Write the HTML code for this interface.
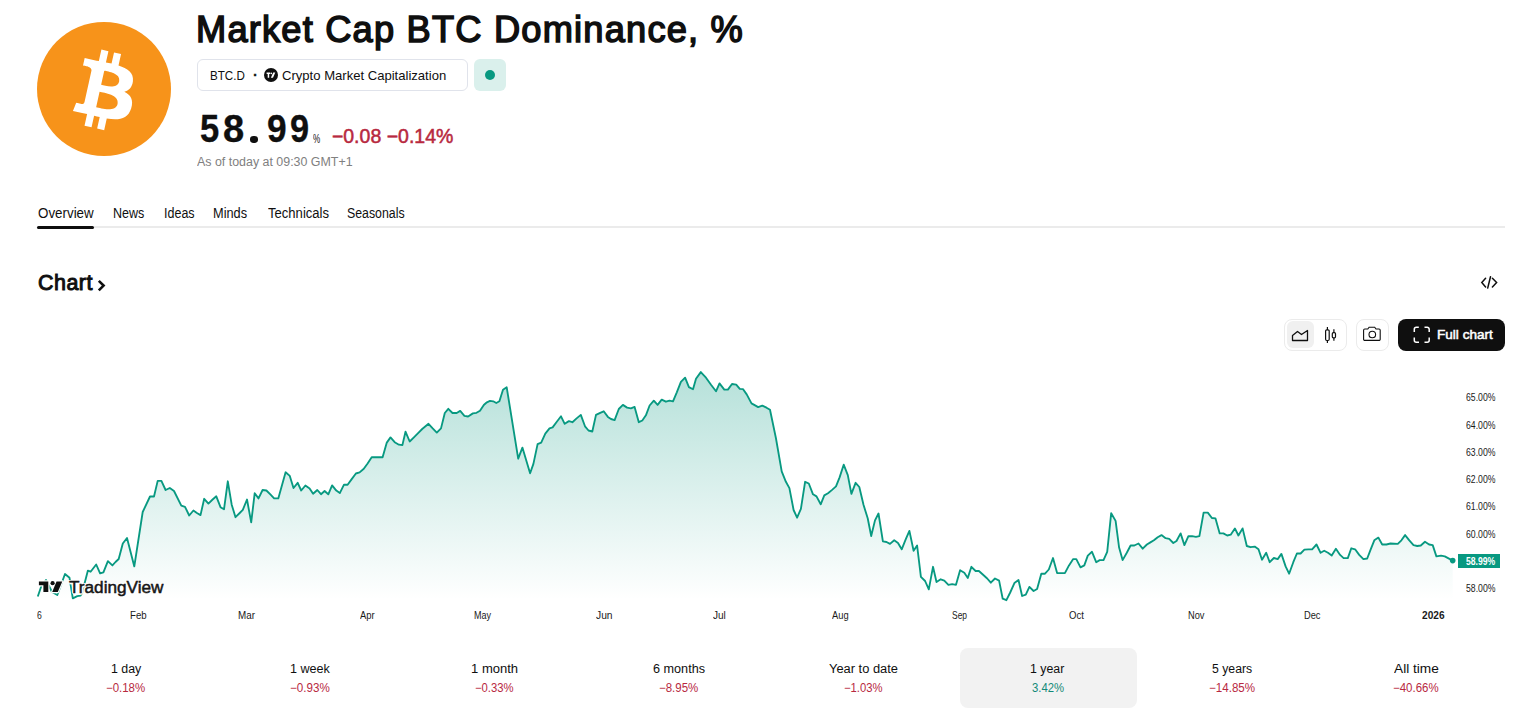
<!DOCTYPE html>
<html><head><meta charset="utf-8">
<style>
html,body{margin:0;padding:0;background:#fff;}
body{width:1523px;height:719px;overflow:hidden;position:relative;font-family:"Liberation Sans",sans-serif;color:#0f0f0f;}
.a{position:absolute;white-space:nowrap;}
</style></head>
<body>
<!-- logo -->
<svg class="a" style="left:37px;top:22px" width="134" height="134" viewBox="0 0 64 64">
<circle cx="32" cy="32" r="32" fill="#f7931a"/>
<path fill="#fff" transform="translate(31.75 32.2) rotate(-1.5) scale(0.95) translate(-31.2 -31.2)" d="M46.11 27.441c.636-4.258-2.606-6.547-7.039-8.074l1.438-5.768-3.512-.875-1.4 5.616c-.922-.23-1.87-.447-2.812-.662l1.41-5.653-3.509-.875-1.439 5.766c-.764-.174-1.514-.346-2.242-.527l.004-.018-4.842-1.209-.934 3.75s2.605.597 2.55.634c1.422.355 1.68 1.296 1.636 2.042l-1.638 6.571c.098.025.225.061.365.117l-.37-.092-2.297 9.205c-.174.432-.615 1.08-1.609.834.035.051-2.552-.637-2.552-.637l-1.743 4.019 4.569 1.139c.85.213 1.683.436 2.503.646l-1.453 5.834 3.507.875 1.439-5.772c.958.26 1.888.5 2.798.726l-1.434 5.745 3.511.875 1.453-5.823c5.987 1.133 10.489.676 12.384-4.739 1.527-4.36-.076-6.875-3.226-8.515 2.294-.529 4.022-2.038 4.483-5.155zM38.087 38.69c-1.086 4.36-8.426 2.004-10.807 1.412l1.928-7.729c2.38.594 10.011 1.77 8.88 6.317zm1.085-11.312c-.99 3.966-7.1 1.951-9.083 1.457l1.748-7.01c1.983.494 8.367 1.416 7.335 5.553z"/>
</svg>

<!-- title -->

<!-- badge -->
<div class="a" style="left:197px;top:59px;width:269px;height:30px;border:1px solid #e0e3eb;border-radius:6px;"></div>
<svg class="a" style="left:264px;top:68px" width="14" height="14" viewBox="0 0 14 14">
<circle cx="7" cy="7" r="7" fill="#0f0f0f"/>
<path d="M2.6 4.6h3.6v1.5H5.2v3.6H3.7V6.1H2.6z" fill="#fff"/>
<circle cx="7.3" cy="5.4" r="0.8" fill="#fff"/>
<path d="M9.2 4.6h2.1l-2.3 5.1H6.9z" fill="#fff"/>
</svg>
<div class="a" style="left:474px;top:59px;width:32px;height:32px;border-radius:6px;background:#daf0ec"></div>
<div class="a" style="left:485px;top:70px;width:10px;height:10px;border-radius:50%;background:#089981"></div>

<!-- price -->

<div class="a" style="left:249.5px;top:136px;width:8px;height:7px;border-radius:45%;background:#0f0f0f"></div>
<!-- tabs -->
<div class="a" style="left:37px;top:226px;width:1468px;height:2px;background:#ebebeb"></div>
<div class="a" style="left:37px;top:225.5px;width:57px;height:3px;border-radius:2px;background:#0f0f0f"></div>

<!-- chart heading -->
<svg class="a" style="left:97px;top:279px" width="9" height="13" viewBox="0 0 9 13"><path d="M1.8 1.8l4.8 4.8-4.8 4.8" fill="none" stroke="#0f0f0f" stroke-width="2.6"/></svg>

<!-- embed icon -->
<svg class="a" style="left:1479px;top:275px" width="20" height="16" viewBox="0 0 20 16">
<path d="M6.6 3.3L2.8 7.6 6.6 12M13.4 3.3L17.6 7.6 13.4 12M11.5 1.8L8.7 13.1" fill="none" stroke="#0f0f0f" stroke-width="1.5" stroke-linecap="round" stroke-linejoin="miter"/>
</svg>
<!-- toolbar -->
<div class="a" style="left:1284px;top:319px;width:61px;height:30px;border:1px solid #ebebeb;border-radius:8px"></div>
<div class="a" style="left:1287px;top:321px;width:27px;height:27px;border-radius:6px;background:#f0f0f0"></div>
<svg class="a" style="left:1290px;top:326px" width="20" height="18" viewBox="0 0 20 18">
<path d="M2.5 14.5V9.5l5-4 4 3 6-4v10z" fill="none" stroke="#0f0f0f" stroke-width="1.3" stroke-linejoin="round"/>
</svg>
<svg class="a" style="left:1322px;top:326px" width="16" height="18" viewBox="0 0 16 18">
<path d="M5.4 1v16M11.9 3.3v11.4" stroke="#0f0f0f" stroke-width="1.2"/>
<rect x="3.6" y="3.9" width="3.6" height="10.6" rx="1.2" fill="#fff" stroke="#0f0f0f" stroke-width="1.2"/>
<rect x="10.3" y="6.6" width="3.2" height="5.2" rx="1.1" fill="#fff" stroke="#0f0f0f" stroke-width="1.2"/>
</svg>
<div class="a" style="left:1356px;top:319px;width:31px;height:30px;border:1px solid #ebebeb;border-radius:8px"></div>
<svg class="a" style="left:1362px;top:325px" width="20" height="18" viewBox="0 0 20 18">
<path d="M1.6 5.2a1.2 1.2 0 0 1 1.2-1.2h3l1.3-1.8h5.6l1.3 1.8h3a1.2 1.2 0 0 1 1.2 1.2v9a1.2 1.2 0 0 1-1.2 1.2H2.8a1.2 1.2 0 0 1-1.2-1.2z" fill="none" stroke="#0f0f0f" stroke-width="1.1"/>
<circle cx="10.3" cy="9.5" r="3.3" fill="none" stroke="#0f0f0f" stroke-width="1.1"/>
</svg>
<div class="a" style="left:1398px;top:319px;width:107px;height:32px;border-radius:8px;background:#0f0f0f"></div>
<svg class="a" style="left:1412.3px;top:324.5px" width="20" height="20" viewBox="0 0 20 20">
<path d="M2.3 7V4.3a2 2 0 0 1 2-2h2.5M12.5 2.3h2.7a2 2 0 0 1 2 2V7M17.2 12.5v2.7a2 2 0 0 1-2 2h-2.7M7 17.2H4.3a2 2 0 0 1-2-2v-2.7" fill="none" stroke="#fff" stroke-width="1.5"/>
</svg>

<!-- chart -->
<svg class="a" style="left:0;top:0" width="1523" height="719">
<defs><linearGradient id="g" x1="0" y1="370" x2="0" y2="600" gradientUnits="userSpaceOnUse">
<stop offset="0" stop-color="#089981" stop-opacity="0.30"/>
<stop offset="1" stop-color="#089981" stop-opacity="0.0"/>
</linearGradient></defs>
<path d="M37.8 596.5 L41.1 586.7 L46.0 580.0 L52.0 592.0 L57.3 595.0 L65.0 574.0 L69.5 577.8 L72.8 598.4 L77.3 596.2 L80.6 595.6 L82.3 592.3 L87.9 570.6 L90.6 571.7 L96.2 564.5 L100.1 573.4 L103.4 572.3 L107.9 561.1 L112.4 565.4 L115.5 562.0 L118.7 559.0 L122.8 543.5 L127.0 538.0 L134.3 566.4 L142.7 512.0 L150.0 496.5 L154.0 496.5 L157.7 480.9 L161.4 480.9 L165.6 490.0 L169.8 488.0 L174.0 491.0 L181.3 505.7 L185.0 506.8 L189.2 515.5 L193.4 510.5 L196.9 513.0 L200.5 515.1 L204.2 498.8 L208.4 503.6 L212.6 499.5 L216.3 496.3 L220.5 507.2 L224.0 509.3 L227.8 481.3 L231.7 504.7 L235.5 517.2 L239.7 513.0 L242.8 509.9 L247.0 499.5 L251.2 522.4 L254.7 493.2 L258.5 498.4 L262.6 490.0 L266.4 490.5 L270.6 494.7 L274.1 498.4 L278.3 498.4 L285.6 472.3 L289.8 475.9 L293.5 488.0 L297.7 482.8 L301.2 490.5 L305.4 485.5 L309.6 488.4 L313.1 493.8 L317.3 490.0 L321.0 494.2 L324.6 491.0 L328.3 494.3 L332.1 485.4 L336.3 490.6 L339.8 493.1 L344.0 484.7 L347.6 484.7 L351.7 479.1 L355.9 473.5 L359.6 472.4 L363.8 468.7 L367.6 463.5 L371.7 457.2 L375.9 457.2 L382.6 457.2 L386.8 442.6 L390.5 437.4 L394.7 442.2 L398.9 444.7 L402.4 445.1 L405.5 431.7 L409.7 441.5 L413.9 437.4 L418.1 433.2 L422.2 429.0 L428.5 423.8 L432.7 428.4 L436.8 432.6 L441.0 428.4 L444.8 413.0 L448.3 408.8 L452.5 413.0 L456.7 413.0 L460.2 410.9 L464.4 415.9 L468.1 416.5 L472.9 413.4 L476.5 412.8 L480.0 410.7 L483.8 405.0 L486.9 402.3 L490.0 400.9 L493.2 401.3 L496.3 403.0 L499.4 401.3 L503.0 389.8 L506.7 387.3 L518.2 458.7 L522.4 447.6 L530.1 473.3 L533.4 463.9 L537.6 444.1 L541.2 442.6 L545.3 433.6 L549.5 428.4 L552.6 427.4 L556.8 421.7 L561.0 416.3 L564.7 423.8 L568.9 421.1 L572.4 422.2 L576.6 418.4 L580.8 414.9 L585.0 426.3 L588.5 430.5 L592.3 431.5 L596.0 414.9 L600.2 412.8 L603.7 411.3 L607.9 416.9 L611.0 419.0 L614.6 420.1 L618.8 409.0 L622.9 404.9 L627.1 407.6 L630.9 408.4 L634.6 406.9 L638.8 422.2 L642.3 420.5 L645.9 415.3 L649.6 405.5 L653.8 400.7 L657.6 404.9 L661.7 399.6 L665.9 401.7 L669.5 400.7 L673.0 401.3 L676.8 392.3 L680.9 381.9 L685.1 377.7 L688.9 387.1 L693.0 389.2 L696.0 378.8 L700.8 372.1 L706.0 377.7 L711.2 385.0 L716.0 391.3 L719.5 383.4 L724.3 389.6 L727.9 389.6 L732.0 384.0 L736.2 384.6 L739.8 388.8 L743.1 389.2 L746.7 394.4 L751.5 403.4 L756.0 405.9 L758.1 407.1 L762.3 405.6 L766.5 407.7 L770.0 409.8 L775.9 438.0 L781.7 471.4 L785.9 481.8 L789.4 488.1 L793.6 510.0 L797.1 517.7 L800.9 508.9 L805.1 481.8 L808.8 483.5 L813.0 494.3 L816.5 496.4 L820.7 504.3 L824.3 495.4 L828.0 493.3 L831.8 490.1 L836.0 486.4 L839.5 477.6 L843.7 464.7 L847.8 475.1 L851.4 493.9 L855.6 482.8 L859.3 487.0 L863.5 504.8 L867.7 518.3 L871.2 536.0 L875.0 520.4 L878.5 513.5 L882.9 541.4 L886.5 542.0 L890.0 543.9 L894.2 540.3 L898.0 543.0 L901.7 549.3 L905.9 538.9 L909.4 530.9 L913.6 550.8 L917.1 545.5 L920.9 576.8 L925.1 581.0 L928.8 589.4 L933.0 566.8 L936.5 582.0 L940.7 579.3 L944.3 580.6 L948.4 584.8 L952.2 584.1 L956.0 584.8 L960.1 570.2 L964.3 572.7 L967.8 577.9 L971.4 566.8 L975.6 571.0 L978.9 571.0 L983.1 574.8 L987.2 578.5 L990.8 582.7 L995.0 578.5 L999.1 580.6 L1002.7 598.7 L1006.4 600.2 L1010.2 592.5 L1014.4 583.1 L1018.5 580.0 L1022.1 596.0 L1025.8 594.6 L1029.4 586.9 L1033.6 591.0 L1037.1 589.0 L1041.3 573.7 L1045.0 573.7 L1048.8 569.5 L1053.0 558.0 L1057.1 573.1 L1060.7 573.1 L1064.9 573.1 L1069.0 565.4 L1073.2 559.1 L1076.3 559.1 L1080.5 567.4 L1084.3 565.4 L1087.8 555.6 L1092.0 551.8 L1096.2 562.2 L1099.7 560.1 L1103.5 560.1 L1107.2 551.8 L1111.2 513.2 L1115.6 520.9 L1119.1 547.6 L1122.6 560.1 L1126.8 552.8 L1130.6 545.5 L1134.3 545.5 L1138.5 543.5 L1142.7 548.7 L1146.9 544.5 L1150.4 542.4 L1153.9 540.3 L1157.7 537.2 L1161.5 535.1 L1165.6 538.2 L1169.2 538.9 L1173.3 543.0 L1176.5 541.0 L1180.6 533.4 L1184.4 545.1 L1188.4 536.2 L1192.1 536.2 L1195.9 536.8 L1199.4 536.2 L1203.6 512.6 L1207.8 512.6 L1211.9 518.0 L1215.5 518.4 L1219.7 533.4 L1223.4 533.4 L1227.2 535.5 L1230.7 534.7 L1234.9 528.4 L1238.4 535.5 L1242.6 528.4 L1246.8 546.0 L1250.5 547.2 L1254.7 546.6 L1258.5 549.3 L1262.0 559.7 L1266.2 552.8 L1269.7 562.2 L1273.9 558.0 L1277.7 559.1 L1281.4 553.9 L1285.6 566.4 L1289.1 573.7 L1293.3 562.2 L1296.9 553.5 L1300.6 553.5 L1304.4 549.7 L1308.5 549.3 L1312.1 549.3 L1316.5 544.5 L1320.6 552.8 L1324.2 550.8 L1328.0 552.8 L1331.7 555.6 L1335.9 548.7 L1340.1 554.9 L1343.6 558.1 L1347.8 558.1 L1351.3 548.3 L1355.1 549.3 L1359.2 554.9 L1363.4 559.1 L1367.2 558.5 L1370.7 549.3 L1374.3 540.3 L1378.4 537.6 L1382.2 544.5 L1386.4 544.5 L1390.5 543.5 L1397.8 543.9 L1401.4 540.3 L1405.1 535.1 L1409.3 540.3 L1413.5 545.1 L1417.2 546.0 L1420.8 545.5 L1425.0 541.8 L1429.1 544.5 L1432.7 545.1 L1436.4 556.4 L1441.0 555.6 L1444.8 556.4 L1452.7 560.6 L1452.7 600 L37.8 600 Z" fill="url(#g)"/>
<path d="M37.8 596.5 L41.1 586.7 L46.0 580.0 L52.0 592.0 L57.3 595.0 L65.0 574.0 L69.5 577.8 L72.8 598.4 L77.3 596.2 L80.6 595.6 L82.3 592.3 L87.9 570.6 L90.6 571.7 L96.2 564.5 L100.1 573.4 L103.4 572.3 L107.9 561.1 L112.4 565.4 L115.5 562.0 L118.7 559.0 L122.8 543.5 L127.0 538.0 L134.3 566.4 L142.7 512.0 L150.0 496.5 L154.0 496.5 L157.7 480.9 L161.4 480.9 L165.6 490.0 L169.8 488.0 L174.0 491.0 L181.3 505.7 L185.0 506.8 L189.2 515.5 L193.4 510.5 L196.9 513.0 L200.5 515.1 L204.2 498.8 L208.4 503.6 L212.6 499.5 L216.3 496.3 L220.5 507.2 L224.0 509.3 L227.8 481.3 L231.7 504.7 L235.5 517.2 L239.7 513.0 L242.8 509.9 L247.0 499.5 L251.2 522.4 L254.7 493.2 L258.5 498.4 L262.6 490.0 L266.4 490.5 L270.6 494.7 L274.1 498.4 L278.3 498.4 L285.6 472.3 L289.8 475.9 L293.5 488.0 L297.7 482.8 L301.2 490.5 L305.4 485.5 L309.6 488.4 L313.1 493.8 L317.3 490.0 L321.0 494.2 L324.6 491.0 L328.3 494.3 L332.1 485.4 L336.3 490.6 L339.8 493.1 L344.0 484.7 L347.6 484.7 L351.7 479.1 L355.9 473.5 L359.6 472.4 L363.8 468.7 L367.6 463.5 L371.7 457.2 L375.9 457.2 L382.6 457.2 L386.8 442.6 L390.5 437.4 L394.7 442.2 L398.9 444.7 L402.4 445.1 L405.5 431.7 L409.7 441.5 L413.9 437.4 L418.1 433.2 L422.2 429.0 L428.5 423.8 L432.7 428.4 L436.8 432.6 L441.0 428.4 L444.8 413.0 L448.3 408.8 L452.5 413.0 L456.7 413.0 L460.2 410.9 L464.4 415.9 L468.1 416.5 L472.9 413.4 L476.5 412.8 L480.0 410.7 L483.8 405.0 L486.9 402.3 L490.0 400.9 L493.2 401.3 L496.3 403.0 L499.4 401.3 L503.0 389.8 L506.7 387.3 L518.2 458.7 L522.4 447.6 L530.1 473.3 L533.4 463.9 L537.6 444.1 L541.2 442.6 L545.3 433.6 L549.5 428.4 L552.6 427.4 L556.8 421.7 L561.0 416.3 L564.7 423.8 L568.9 421.1 L572.4 422.2 L576.6 418.4 L580.8 414.9 L585.0 426.3 L588.5 430.5 L592.3 431.5 L596.0 414.9 L600.2 412.8 L603.7 411.3 L607.9 416.9 L611.0 419.0 L614.6 420.1 L618.8 409.0 L622.9 404.9 L627.1 407.6 L630.9 408.4 L634.6 406.9 L638.8 422.2 L642.3 420.5 L645.9 415.3 L649.6 405.5 L653.8 400.7 L657.6 404.9 L661.7 399.6 L665.9 401.7 L669.5 400.7 L673.0 401.3 L676.8 392.3 L680.9 381.9 L685.1 377.7 L688.9 387.1 L693.0 389.2 L696.0 378.8 L700.8 372.1 L706.0 377.7 L711.2 385.0 L716.0 391.3 L719.5 383.4 L724.3 389.6 L727.9 389.6 L732.0 384.0 L736.2 384.6 L739.8 388.8 L743.1 389.2 L746.7 394.4 L751.5 403.4 L756.0 405.9 L758.1 407.1 L762.3 405.6 L766.5 407.7 L770.0 409.8 L775.9 438.0 L781.7 471.4 L785.9 481.8 L789.4 488.1 L793.6 510.0 L797.1 517.7 L800.9 508.9 L805.1 481.8 L808.8 483.5 L813.0 494.3 L816.5 496.4 L820.7 504.3 L824.3 495.4 L828.0 493.3 L831.8 490.1 L836.0 486.4 L839.5 477.6 L843.7 464.7 L847.8 475.1 L851.4 493.9 L855.6 482.8 L859.3 487.0 L863.5 504.8 L867.7 518.3 L871.2 536.0 L875.0 520.4 L878.5 513.5 L882.9 541.4 L886.5 542.0 L890.0 543.9 L894.2 540.3 L898.0 543.0 L901.7 549.3 L905.9 538.9 L909.4 530.9 L913.6 550.8 L917.1 545.5 L920.9 576.8 L925.1 581.0 L928.8 589.4 L933.0 566.8 L936.5 582.0 L940.7 579.3 L944.3 580.6 L948.4 584.8 L952.2 584.1 L956.0 584.8 L960.1 570.2 L964.3 572.7 L967.8 577.9 L971.4 566.8 L975.6 571.0 L978.9 571.0 L983.1 574.8 L987.2 578.5 L990.8 582.7 L995.0 578.5 L999.1 580.6 L1002.7 598.7 L1006.4 600.2 L1010.2 592.5 L1014.4 583.1 L1018.5 580.0 L1022.1 596.0 L1025.8 594.6 L1029.4 586.9 L1033.6 591.0 L1037.1 589.0 L1041.3 573.7 L1045.0 573.7 L1048.8 569.5 L1053.0 558.0 L1057.1 573.1 L1060.7 573.1 L1064.9 573.1 L1069.0 565.4 L1073.2 559.1 L1076.3 559.1 L1080.5 567.4 L1084.3 565.4 L1087.8 555.6 L1092.0 551.8 L1096.2 562.2 L1099.7 560.1 L1103.5 560.1 L1107.2 551.8 L1111.2 513.2 L1115.6 520.9 L1119.1 547.6 L1122.6 560.1 L1126.8 552.8 L1130.6 545.5 L1134.3 545.5 L1138.5 543.5 L1142.7 548.7 L1146.9 544.5 L1150.4 542.4 L1153.9 540.3 L1157.7 537.2 L1161.5 535.1 L1165.6 538.2 L1169.2 538.9 L1173.3 543.0 L1176.5 541.0 L1180.6 533.4 L1184.4 545.1 L1188.4 536.2 L1192.1 536.2 L1195.9 536.8 L1199.4 536.2 L1203.6 512.6 L1207.8 512.6 L1211.9 518.0 L1215.5 518.4 L1219.7 533.4 L1223.4 533.4 L1227.2 535.5 L1230.7 534.7 L1234.9 528.4 L1238.4 535.5 L1242.6 528.4 L1246.8 546.0 L1250.5 547.2 L1254.7 546.6 L1258.5 549.3 L1262.0 559.7 L1266.2 552.8 L1269.7 562.2 L1273.9 558.0 L1277.7 559.1 L1281.4 553.9 L1285.6 566.4 L1289.1 573.7 L1293.3 562.2 L1296.9 553.5 L1300.6 553.5 L1304.4 549.7 L1308.5 549.3 L1312.1 549.3 L1316.5 544.5 L1320.6 552.8 L1324.2 550.8 L1328.0 552.8 L1331.7 555.6 L1335.9 548.7 L1340.1 554.9 L1343.6 558.1 L1347.8 558.1 L1351.3 548.3 L1355.1 549.3 L1359.2 554.9 L1363.4 559.1 L1367.2 558.5 L1370.7 549.3 L1374.3 540.3 L1378.4 537.6 L1382.2 544.5 L1386.4 544.5 L1390.5 543.5 L1397.8 543.9 L1401.4 540.3 L1405.1 535.1 L1409.3 540.3 L1413.5 545.1 L1417.2 546.0 L1420.8 545.5 L1425.0 541.8 L1429.1 544.5 L1432.7 545.1 L1436.4 556.4 L1441.0 555.6 L1444.8 556.4 L1452.7 560.6" fill="none" stroke="#089981" stroke-width="1.85" stroke-linejoin="round"/>
<circle cx="1452.7" cy="560.6" r="2.8" fill="#089981"/>
<rect x="1458" y="554" width="42" height="14" fill="#089981"/>
</svg>


<!-- TradingView logo -->
<svg class="a" style="left:37px;top:578px" width="30" height="18" viewBox="0 0 30 18">
<g stroke="#fff" stroke-width="2.4" stroke-linejoin="round" fill="#fff">
<path d="M1.9 3.4H11.3V14.1H6.4V7.3H1.9z"/><circle cx="15.6" cy="5.2" r="2.1"/><path d="M19.5 3.4H25.3L20.8 14.1H15.2z"/>
</g>
<g fill="#0f0f0f">
<path d="M1.9 3.4H11.3V14.1H6.4V7.3H1.9z"/><circle cx="15.6" cy="5.2" r="2.1"/><path d="M19.5 3.4H25.3L20.8 14.1H15.2z"/>
</g>
</svg>
<div class="a" style="left:960.0px;top:648px;width:177.4px;height:60px;border-radius:8px;background:#f2f2f2"></div>
<div class="a" style="left:195.61px;top:12px;font-size:36.5px;line-height:36.5px;font-weight:normal;color:#0f0f0f;transform-origin:0 0;transform:scaleX(0.9934);-webkit-text-stroke:1.5px #0f0f0f;letter-spacing:1.2px">Market Cap BTC Dominance, %</div>
<div class="a" style="left:209.71px;top:69px;font-size:13.0px;line-height:13.0px;font-weight:normal;color:#0f0f0f;transform-origin:0 0;transform:scaleX(0.8921)">BTC.D</div>
<div class="a" style="left:253.30px;top:68px;font-size:13px;line-height:13px;font-weight:normal;color:#0f0f0f;transform-origin:0 0;font-weight:bold;-webkit-text-stroke:0.4px #0f0f0f">·</div>
<div class="a" style="left:282.10px;top:69px;font-size:13.0px;line-height:13.0px;font-weight:normal;color:#0f0f0f;transform-origin:0 0;transform:scaleX(1.0055)">Crypto Market Capitalization</div>
<div class="a" style="left:199.58px;top:109.68571428571428px;font-size:37.5px;line-height:37.5px;font-weight:bold;color:#0f0f0f;transform-origin:0 0;transform:scale(0.9211,1.0286);-webkit-text-stroke:0.35px #0f0f0f">5</div>
<div class="a" style="left:222.98px;top:109.68571428571428px;font-size:37.5px;line-height:37.5px;font-weight:bold;color:#0f0f0f;transform-origin:0 0;transform:scale(1.0158,1.0286);-webkit-text-stroke:0.35px #0f0f0f">8</div>
<div class="a" style="left:266.66px;top:109.68571428571428px;font-size:37.5px;line-height:37.5px;font-weight:bold;color:#0f0f0f;transform-origin:0 0;transform:scale(0.9421,1.0286);-webkit-text-stroke:0.35px #0f0f0f">9</div>
<div class="a" style="left:289.68px;top:109.68571428571428px;font-size:37.5px;line-height:37.5px;font-weight:bold;color:#0f0f0f;transform-origin:0 0;transform:scale(0.9158,1.0286);-webkit-text-stroke:0.35px #0f0f0f">9</div>
<div class="a" style="left:313.10px;top:133px;font-size:12.0px;line-height:12.0px;font-weight:normal;color:#0f0f0f;transform-origin:0 0;transform:scaleX(0.6727)">%</div>
<div class="a" style="left:331.90px;top:127px;font-size:19.5px;line-height:19.5px;font-weight:normal;color:#b8293f;transform-origin:0 0;-webkit-text-stroke:0.5px #b8293f">−0.08 −0.14%</div>
<div class="a" style="left:197.40px;top:156px;font-size:12.5px;line-height:12.5px;font-weight:normal;color:#808080;transform-origin:0 0;transform:scaleX(0.9930)">As of today at 09:30 GMT+1</div>
<div class="a" style="left:37.50px;top:206px;font-size:14px;line-height:14px;font-weight:normal;color:#0f0f0f;transform-origin:0 0;transform:scaleX(0.9542)">Overview</div>
<div class="a" style="left:113.01px;top:206px;font-size:14px;line-height:14px;font-weight:normal;color:#0f0f0f;transform-origin:0 0;transform:scaleX(0.8941)">News</div>
<div class="a" style="left:163.51px;top:206px;font-size:14px;line-height:14px;font-weight:normal;color:#0f0f0f;transform-origin:0 0;transform:scaleX(0.8939)">Ideas</div>
<div class="a" style="left:213.49px;top:206px;font-size:14px;line-height:14px;font-weight:normal;color:#0f0f0f;transform-origin:0 0;transform:scaleX(0.9111)">Minds</div>
<div class="a" style="left:267.60px;top:206px;font-size:14px;line-height:14px;font-weight:normal;color:#0f0f0f;transform-origin:0 0;transform:scaleX(0.9338)">Technicals</div>
<div class="a" style="left:347.12px;top:206px;font-size:14px;line-height:14px;font-weight:normal;color:#0f0f0f;transform-origin:0 0;transform:scaleX(0.8812)">Seasonals</div>
<div class="a" style="left:38.00px;top:272px;font-size:22px;line-height:22px;font-weight:normal;color:#0f0f0f;transform-origin:0 0;transform:scaleX(0.9754);-webkit-text-stroke:1.0px #0f0f0f;letter-spacing:0.5px">Chart</div>
<div class="a" style="left:1436.61px;top:329px;font-size:12.5px;line-height:12.5px;font-weight:normal;color:#ffffff;transform-origin:0 0;transform:scaleX(1.0860);-webkit-text-stroke:0.5px #fff">Full chart</div>
<div class="a" style="left:1465.90px;top:392px;font-size:11.0px;line-height:11.0px;font-weight:normal;color:#1a1a1a;transform-origin:0 0;transform:scaleX(0.7892)">65.00%</div>
<div class="a" style="left:1465.90px;top:420px;font-size:11.0px;line-height:11.0px;font-weight:normal;color:#1a1a1a;transform-origin:0 0;transform:scaleX(0.7892)">64.00%</div>
<div class="a" style="left:1465.90px;top:447px;font-size:11.0px;line-height:11.0px;font-weight:normal;color:#1a1a1a;transform-origin:0 0;transform:scaleX(0.7892)">63.00%</div>
<div class="a" style="left:1465.90px;top:474px;font-size:11.0px;line-height:11.0px;font-weight:normal;color:#1a1a1a;transform-origin:0 0;transform:scaleX(0.7892)">62.00%</div>
<div class="a" style="left:1465.90px;top:501px;font-size:11.0px;line-height:11.0px;font-weight:normal;color:#1a1a1a;transform-origin:0 0;transform:scaleX(0.7892)">61.00%</div>
<div class="a" style="left:1465.90px;top:529px;font-size:11.0px;line-height:11.0px;font-weight:normal;color:#1a1a1a;transform-origin:0 0;transform:scaleX(0.7892)">60.00%</div>
<div class="a" style="left:1465.90px;top:583px;font-size:11.0px;line-height:11.0px;font-weight:normal;color:#1a1a1a;transform-origin:0 0;transform:scaleX(0.7892)">58.00%</div>
<div class="a" style="left:1465.90px;top:556px;font-size:11.0px;line-height:11.0px;font-weight:bold;color:#ffffff;transform-origin:0 0;transform:scaleX(0.7838)">58.99%</div>
<div class="a" style="left:36.80px;top:610px;font-size:11.0px;line-height:11.0px;font-weight:normal;color:#1a1a1a;transform-origin:0 0;transform:scaleX(0.7833)">6</div>
<div class="a" style="left:130.22px;top:610px;font-size:11.0px;line-height:11.0px;font-weight:normal;color:#1a1a1a;transform-origin:0 0;transform:scaleX(0.8778)">Feb</div>
<div class="a" style="left:238.11px;top:610px;font-size:11.0px;line-height:11.0px;font-weight:normal;color:#1a1a1a;transform-origin:0 0;transform:scaleX(0.8944)">Mar</div>
<div class="a" style="left:360.10px;top:610px;font-size:11.0px;line-height:11.0px;font-weight:normal;color:#1a1a1a;transform-origin:0 0;transform:scaleX(0.8588)">Apr</div>
<div class="a" style="left:474.48px;top:610px;font-size:11.0px;line-height:11.0px;font-weight:normal;color:#1a1a1a;transform-origin:0 0;transform:scaleX(0.8200)">May</div>
<div class="a" style="left:595.70px;top:610px;font-size:11.0px;line-height:11.0px;font-weight:normal;color:#1a1a1a;transform-origin:0 0;transform:scaleX(0.9353)">Jun</div>
<div class="a" style="left:713.30px;top:610px;font-size:11.0px;line-height:11.0px;font-weight:normal;color:#1a1a1a;transform-origin:0 0;transform:scaleX(0.9143)">Jul</div>
<div class="a" style="left:831.90px;top:610px;font-size:11.0px;line-height:11.0px;font-weight:normal;color:#1a1a1a;transform-origin:0 0;transform:scaleX(0.8474)">Aug</div>
<div class="a" style="left:952.20px;top:610px;font-size:11.0px;line-height:11.0px;font-weight:normal;color:#1a1a1a;transform-origin:0 0;transform:scaleX(0.7700)">Sep</div>
<div class="a" style="left:1068.80px;top:610px;font-size:11.0px;line-height:11.0px;font-weight:normal;color:#1a1a1a;transform-origin:0 0;transform:scaleX(0.8706)">Oct</div>
<div class="a" style="left:1187.86px;top:610px;font-size:11.0px;line-height:11.0px;font-weight:normal;color:#1a1a1a;transform-origin:0 0;transform:scaleX(0.8421)">Nov</div>
<div class="a" style="left:1304.06px;top:610px;font-size:11.0px;line-height:11.0px;font-weight:normal;color:#1a1a1a;transform-origin:0 0;transform:scaleX(0.8444)">Dec</div>
<div class="a" style="left:1421.80px;top:610px;font-size:11.0px;line-height:11.0px;font-weight:bold;color:#1a1a1a;transform-origin:0 0;transform:scaleX(0.9208)">2026</div>
<div class="a" style="left:110.61px;top:663px;font-size:12.5px;line-height:12.5px;font-weight:normal;color:#0f0f0f;transform-origin:0 0;transform:scaleX(0.9900)">1 day</div>
<div class="a" style="left:106.25px;top:682px;font-size:12.0px;line-height:12.0px;font-weight:normal;color:#b8293f;transform-origin:0 0;transform:scaleX(0.9550)">−0.18%</div>
<div class="a" style="left:290.29px;top:663px;font-size:12.5px;line-height:12.5px;font-weight:normal;color:#0f0f0f;transform-origin:0 0;transform:scaleX(1.0077)">1 week</div>
<div class="a" style="left:290.33px;top:682px;font-size:12.0px;line-height:12.0px;font-weight:normal;color:#b8293f;transform-origin:0 0;transform:scaleX(0.9700)">−0.93%</div>
<div class="a" style="left:470.96px;top:663px;font-size:12.5px;line-height:12.5px;font-weight:normal;color:#0f0f0f;transform-origin:0 0;transform:scaleX(1.0432)">1 month</div>
<div class="a" style="left:474.76px;top:682px;font-size:12.0px;line-height:12.0px;font-weight:normal;color:#b8293f;transform-origin:0 0;transform:scaleX(0.9400)">−0.33%</div>
<div class="a" style="left:653.30px;top:663px;font-size:12.5px;line-height:12.5px;font-weight:normal;color:#0f0f0f;transform-origin:0 0;transform:scaleX(1.0118)">6 months</div>
<div class="a" style="left:659.14px;top:682px;font-size:12.0px;line-height:12.0px;font-weight:normal;color:#b8293f;transform-origin:0 0;transform:scaleX(0.9575)">−8.95%</div>
<div class="a" style="left:829.10px;top:663px;font-size:12.5px;line-height:12.5px;font-weight:normal;color:#0f0f0f;transform-origin:0 0;transform:scaleX(1.0299)">Year to date</div>
<div class="a" style="left:843.86px;top:682px;font-size:12.0px;line-height:12.0px;font-weight:normal;color:#b8293f;transform-origin:0 0;transform:scaleX(0.9400)">−1.03%</div>
<div class="a" style="left:1030.11px;top:663px;font-size:12.5px;line-height:12.5px;font-weight:normal;color:#0f0f0f;transform-origin:0 0;transform:scaleX(0.9882)">1 year</div>
<div class="a" style="left:1032.00px;top:682px;font-size:12.0px;line-height:12.0px;font-weight:normal;color:#138a78;transform-origin:0 0;transform:scaleX(0.9412)">3.42%</div>
<div class="a" style="left:1212.00px;top:663px;font-size:12.5px;line-height:12.5px;font-weight:normal;color:#0f0f0f;transform-origin:0 0;transform:scaleX(0.9805)">5 years</div>
<div class="a" style="left:1208.83px;top:682px;font-size:12.0px;line-height:12.0px;font-weight:normal;color:#b8293f;transform-origin:0 0;transform:scaleX(0.9660)">−14.85%</div>
<div class="a" style="left:1394.00px;top:663px;font-size:12.5px;line-height:12.5px;font-weight:normal;color:#0f0f0f;transform-origin:0 0;transform:scaleX(1.0951)">All time</div>
<div class="a" style="left:1393.04px;top:682px;font-size:12.0px;line-height:12.0px;font-weight:normal;color:#b8293f;transform-origin:0 0;transform:scaleX(0.9553)">−40.66%</div>
<div class="a" style="left:69.30px;top:580px;font-size:16.0px;line-height:16.0px;font-weight:normal;color:#1a1a1a;transform-origin:0 0;transform:scaleX(1.0730);-webkit-text-stroke:0.45px #0f0f0f;text-shadow:1.5px 0 0 #fff,-1.5px 0 0 #fff,0 1.5px 0 #fff,0 -1.5px 0 #fff,1px 1px 0 #fff,-1px -1px 0 #fff,1px -1px 0 #fff,-1px 1px 0 #fff">TradingView</div>
</body></html>
